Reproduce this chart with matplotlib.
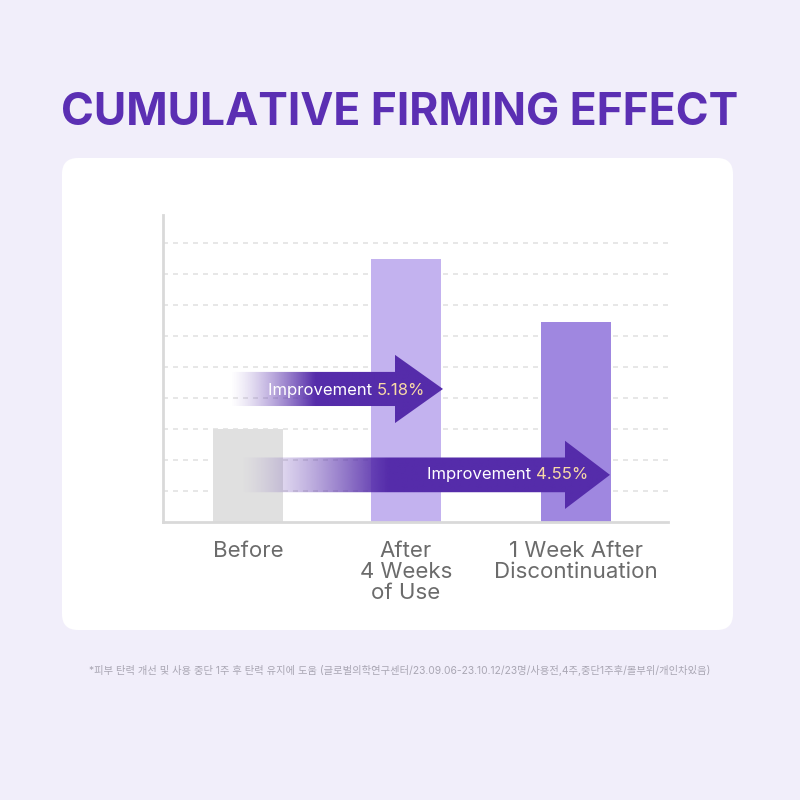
import matplotlib
matplotlib.use("Agg")
import matplotlib.pyplot as plt
import numpy as np
from matplotlib.patches import FancyBboxPatch, Polygon

plt.rcParams['font.family'] = ['Inter', 'Noto Sans CJK KR', 'DejaVu Sans']

categories = ["Before", "After\n4 Weeks\nof Use", "1 Week After\nDiscontinuation"]
values = [3.0, 8.48, 6.45]
improvements = ["5.18%", "4.55%"]
bar_colors = ["#e0e0e0", "#c3b2ef", "#9f87e0"]
title = "CUMULATIVE FIRMING EFFECT"
footnote = "*피부 탄력 개선 및 사용 중단 1주 후 탄력 유지에 도움 (글로벌의학연구센터/23.09.06-23.10.12/23명/사용전,4주,중단1주후/볼부위/개인차있음)"

xpos = [0.85, 2.43, 4.13]

fig = plt.figure(figsize=(8, 8), dpi=100)
fig.patch.set_facecolor("#f1eefa")
card = FancyBboxPatch((62/800, (800-630)/800), 671/800, 472/800,
                      boxstyle="round,pad=0,rounding_size=0.02",
                      transform=fig.transFigure, fc="white", ec="none", zorder=-5)
fig.patches.append(card)

fig.text(0.5, 1-113/800, title, ha="center", va="center", fontsize=32,
         fontweight="bold", color="#5b2fb3")

ax = fig.add_axes([163/800, 1-522/800, 505/800, 307/800])
ax.set_zorder(2)
ax.set_facecolor("none")
for y in range(1, 10):
    ax.axhline(y, color="#e3e3e3", lw=1.2, ls=(0, (3, 3)), zorder=0)
ax.bar(xpos, values, width=0.7, color=bar_colors, zorder=1)
for s in ["top", "right"]:
    ax.spines[s].set_visible(False)
for s in ["left", "bottom"]:
    ax.spines[s].set_color("#d9d9d9")
    ax.spines[s].set_linewidth(2)
ax.set_yticks([])
ax.set_xticks(xpos)
ax.set_xticklabels(categories, fontsize=16, color="#6b6b6b", linespacing=1.05)
ax.tick_params(axis="x", length=0, pad=14)

arrow_color = np.array([0x55, 0x2c, 0xaa]) / 255

def gradient_arrow(x0, x1, xh, yc, bh, hh):
    poly = [(x0, yc-bh), (xh, yc-bh), (xh, yc-hh), (x1, yc), (xh, yc+hh),
            (xh, yc+bh), (x0, yc+bh)]
    patch = Polygon(poly, closed=True, fc="none", ec="none", transform=ax.transData)
    ax.add_patch(patch)
    n = 300
    t = np.linspace(0, 1, n)
    alpha = np.clip(t / 0.4, 0, 1) ** 1.3
    img = np.zeros((2, n, 4))
    img[..., :3] = arrow_color
    img[..., 3] = alpha
    im = ax.imshow(img, extent=[x0, x1, yc-hh, yc+hh], aspect="auto", zorder=3,
                   interpolation="bilinear")
    im.set_clip_path(patch)

gradient_arrow(0.67, 2.80, 2.32, 4.29, 0.55, 1.1)
gradient_arrow(0.77, 4.47, 4.02, 1.52, 0.56, 1.1)
ax.set_xlim(0, 5.05)
ax.set_ylim(0, 9.9)

fig.canvas.draw()
r = fig.canvas.get_renderer()
for (xr, yc), val in zip([(2.62, 4.25), (4.25, 1.52)], improvements):
    t = ax.text(xr, yc, val, ha="right", va="center", fontsize=12, color="#f8d9a6", zorder=5)
    bb = t.get_window_extent(r)
    xl = ax.transData.inverted().transform((bb.x0, bb.y0))[0]
    ax.text(xl, yc, "Improvement ", ha="right", va="center", fontsize=12,
            color="white", zorder=5)

fig.text(0.5, 1-670/800, footnote, ha="center", va="center", fontsize=7.4,
         color="#a9a6b3")

fig.savefig("out.png", dpi=100, facecolor=fig.get_facecolor())
